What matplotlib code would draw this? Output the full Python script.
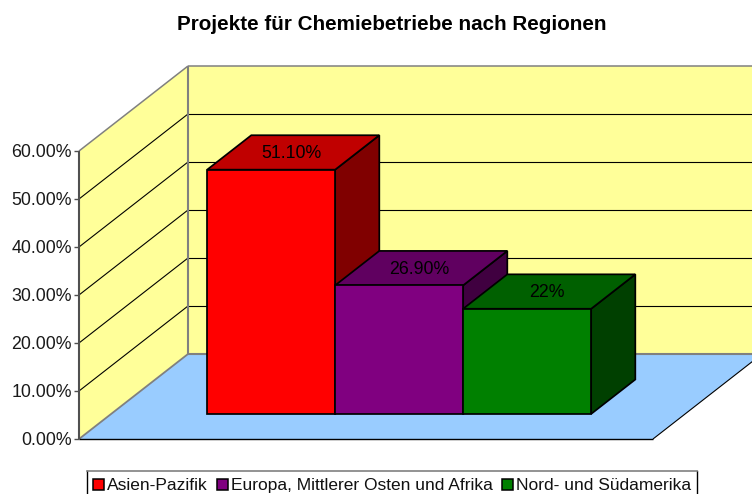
import matplotlib
matplotlib.use("Agg")
import matplotlib.pyplot as plt
from matplotlib.patches import Polygon, Rectangle

plt.rcParams['font.family'] = ['Liberation Sans', 'DejaVu Sans']

title = "Projekte für Chemiebetriebe nach Regionen"
categories = ["Asien-Pazifik", "Europa, Mittlerer Osten und Afrika", "Nord- und Südamerika"]
values = [51.1, 26.9, 22.0]
labels = ["51.10%", "26.90%", "22%"]
ticks = [0, 10, 20, 30, 40, 50, 60]
tick_labels = ["0.00%", "10.00%", "20.00%", "30.00%", "40.00%", "50.00%", "60.00%"]
front_colors = ["#FF0000", "#800080", "#008000"]
top_colors = ["#C00000", "#600060", "#006000"]
side_colors = ["#800000", "#400040", "#004000"]

# Oblique projection into pixel space
X0, Y0 = 79.0, 439.0       # front-left floor corner
PX_PER_PCT = 4.8
BAR_PX_PER_PCT = 4.78
FLOOR_W = 574.0            # width of chart floor
DEPTH_DX, DEPTH_DY = 109.0, -85.0
BAR_W = 128.0              # width of each bar
GAP_L = 96.0               # inset from the floor's left edge
D0, D1 = 0.295, 0.70       # front and back of the bars, as fraction of depth
YMAX = ticks[-1]


def proj(x, v, d, scale=PX_PER_PCT):
    """x in px along floor, v in percent, d in 0..1 depth."""
    return (X0 + x + d * DEPTH_DX, Y0 - v * scale + d * DEPTH_DY)


fig = plt.figure(figsize=(7.52, 4.94), dpi=100)
ax = fig.add_axes([0, 0, 1, 1])
ax.set_xlim(0, 752)
ax.set_ylim(494, 0)
ax.axis("off")

YEL, BLU = "#FFFF99", "#99CCFF"
GREY = "#808080"

ax.add_patch(Polygon([proj(0, 0, 1), proj(0, YMAX, 1), proj(FLOOR_W, YMAX, 1), proj(FLOOR_W, 0, 1)],
                     fc=YEL, ec="none", zorder=1))
ax.add_patch(Polygon([proj(0, 0, 0), proj(0, YMAX, 0), proj(0, YMAX, 1), proj(0, 0, 1)],
                     fc=YEL, ec="none", zorder=1))
ax.add_patch(Polygon([proj(0, 0, 0), proj(FLOOR_W, 0, 0), proj(FLOOR_W, 0, 1), proj(0, 0, 1)],
                     fc=BLU, ec="none", zorder=1))


def seg(a, b, c="black", lw=1.0, z=2):
    ax.plot([a[0], b[0]], [a[1], b[1]], color=c, lw=lw, zorder=z, solid_capstyle="butt")


for t in ticks[1:-1]:
    seg(proj(0, t, 0), proj(0, t, 1), lw=0.8)
    seg(proj(0, t, 1), proj(FLOOR_W, t, 1), lw=0.8)

seg(proj(0, YMAX, 0), proj(0, YMAX, 1), GREY, 1.1)
seg(proj(0, YMAX, 1), proj(FLOOR_W, YMAX, 1), GREY, 1.1)
seg(proj(0, 0, 1), proj(0, YMAX, 1), GREY, 1.5)
seg(proj(0, 0, 0), proj(0, 0, 1), GREY, 1.3)
seg(proj(0, 0, 1), proj(FLOOR_W, 0, 1), GREY, 1.5)
seg(proj(FLOOR_W, 0, 0), proj(FLOOR_W, 0, 1), "black", 0.8)
seg(proj(0, 0, 0), proj(FLOOR_W, 0, 0), "black", 1.0, 3)

seg(proj(0, 0, 0), proj(0, YMAX, 0), "#505050", 1.5, 3)
for t, lab in zip(ticks, tick_labels):
    x, y = proj(0, t, 0)
    seg((x - 5, y), (x, y), "#505050", 1.0, 3)
    ax.text(x - 7, y + 1.5, lab, ha="right", va="center", fontsize=12.8, color="#1a1a1a", zorder=5)

for i, v in enumerate(values):
    a = GAP_L + i * BAR_W
    b = a + BAR_W
    fl_b = proj(a, 0, D0, BAR_PX_PER_PCT)
    fr_b = proj(b, 0, D0, BAR_PX_PER_PCT)
    fl_t = proj(a, v, D0, BAR_PX_PER_PCT)
    fr_t = proj(b, v, D0, BAR_PX_PER_PCT)
    bl_t = proj(a, v, D1, BAR_PX_PER_PCT)
    br_t = proj(b, v, D1, BAR_PX_PER_PCT)
    br_b = proj(b, 0, D1, BAR_PX_PER_PCT)
    z = 10 + i
    kw = dict(ec="black", lw=1.25, joinstyle="miter", zorder=z)
    ax.add_patch(Polygon([fr_b, fr_t, br_t, br_b], fc=side_colors[i], **kw))
    ax.add_patch(Polygon([fl_t, bl_t, br_t, fr_t], fc=top_colors[i], **kw))
    ax.add_patch(Polygon([fl_b, fl_t, fr_t, fr_b], fc=front_colors[i], **kw))
    mx = (fl_t[0] + br_t[0]) / 2 - 2
    my = (fl_t[1] + br_t[1]) / 2 + 1
    ax.text(mx, my, labels[i], ha="center", va="center", fontsize=12.8, color="black", zorder=20)

ax.text(392, 24.5, title, ha="center", va="center", fontsize=14.9, fontweight="bold", color="black")

ax.plot([86.5, 86.5], [494, 470.5], color="black", lw=1.0, zorder=3)
ax.plot([696.5, 696.5], [494, 470.5], color="black", lw=1.0, zorder=3)
ax.plot([86.5, 696.5], [470.5, 470.5], color=GREY, lw=1.2, zorder=3)
for sx, tx, name, col in zip([92, 216, 501], [107, 231, 516], categories, front_colors):
    ax.add_patch(Rectangle((sx + 0.5, 478.5), 11, 11, fc=col, ec="black", lw=1.1, zorder=4))
    ax.text(tx, 485.5, name, ha="left", va="center", fontsize=12.55, color="#111111", zorder=5)

fig.savefig("out.png", dpi=100)
